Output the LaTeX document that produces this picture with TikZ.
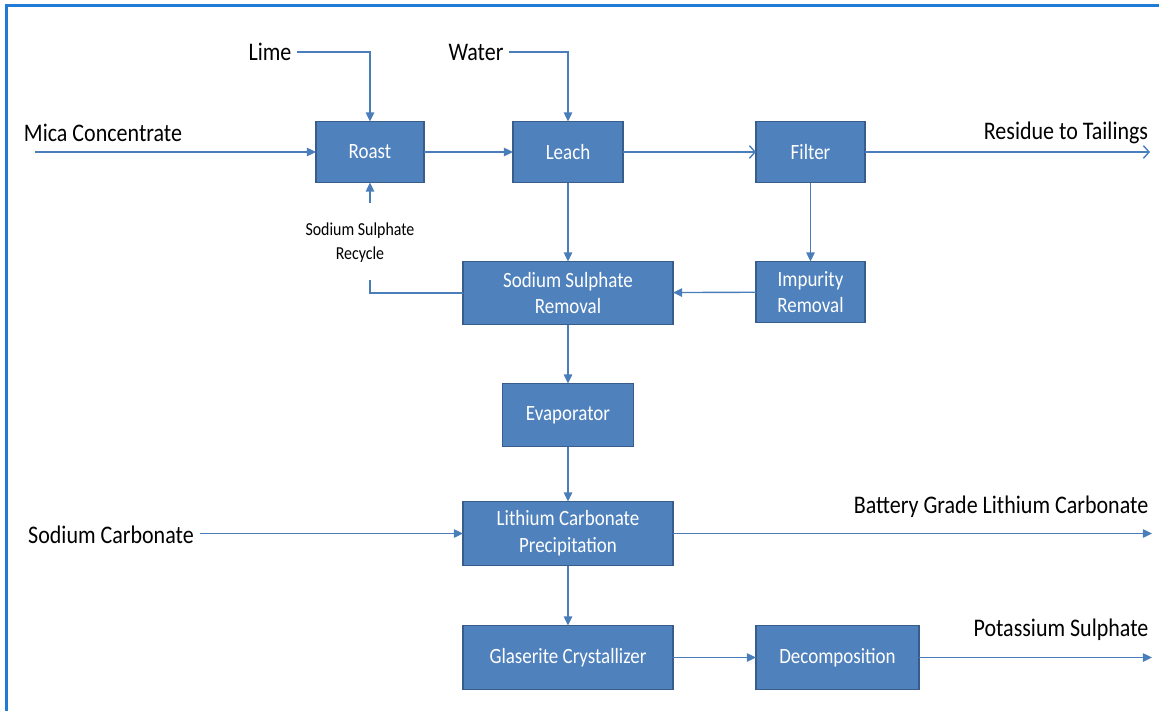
\documentclass[tikz,border=0pt]{standalone}
\usepackage{fontspec}
\setmainfont{Carlito}[FakeStretch=0.87]
\usepackage{tikz}
\usetikzlibrary{arrows.meta,positioning}

\definecolor{boxfill}{HTML}{4F81BD}
\definecolor{boxline}{HTML}{385D8A}
\definecolor{flowcol}{HTML}{4A7EBB}
\definecolor{framecol}{HTML}{1F7BD6}

\begin{document}
\begin{tikzpicture}[
        process/.style={draw=boxline, line width=1.4pt, fill=boxfill, text=white, align=center,
            font=\fontsize{15.5}{19}\selectfont, inner sep=0pt, outer sep=0pt},
        tag/.style={inner sep=4pt, align=center, font=\fontsize{18}{22}\selectfont},
        small/.style={inner sep=2pt, align=center, font=\fontsize{13}{17}\selectfont},
        flow/.style={draw=flowcol, line width=1pt, -{Triangle[length=6.5pt,width=6pt]}},
        openflow/.style={draw=flowcol, line width=1pt, -{Straight Barb[length=4pt,width=9pt]}},
        plain/.style={draw=flowcol, line width=1pt}
    ]

    % frame
    \useasboundingbox (0,0) rectangle (28.975,-17.775);
    \draw[framecol, line width=2.2pt] (0.16,-17.775) -- (0.16,-0.14) -- (28.975,-0.14);

    % Nodes
    \node[process, minimum width=2.7cm, minimum height=1.525cm] (roast) at (9.25,-3.8) {Roast};
    \node[process, minimum width=2.75cm, minimum height=1.525cm, right=2.225cm of roast] (leach) {Leach};
    \node[process, minimum width=2.725cm, minimum height=1.525cm, right=3.325cm of leach] (filter) {Filter};
    \node[process, minimum width=5.25cm, minimum height=1.575cm, below=1.975cm of leach] (ssr) {Sodium Sulphate\\Removal};
    \node[process, minimum width=2.725cm, minimum height=1.525cm, below=1.975cm of filter] (impurity) {Impurity\\Removal};
    \node[process, minimum width=3.275cm, minimum height=1.575cm, below=1.475cm of ssr] (evap) {Evaporator};
    \node[process, minimum width=5.25cm, minimum height=1.6cm, below=1.375cm of evap] (lcp) {Lithium Carbonate\\Precipitation};
    \node[process, minimum width=5.25cm, minimum height=1.6cm, below=1.5cm of lcp] (glaserite) {Glaserite Crystallizer};
    \node[process, minimum width=4.075cm, minimum height=1.6cm, right=2.075cm of glaserite] (decomp) {Decomposition};

    \node[tag] (lime) at (6.75,-1.3) {Lime};
    \node[tag] (water) at (11.9,-1.3) {Water};
    \node[tag] (mica) at (2.575,-3.325) {Mica Concentrate};
    \node[small] (recycle) at (9.0,-6.075) {Sodium Sulphate\\Recycle};
    \node[tag] (residue) at (26.65,-3.325) {Residue to Tailings};
    \node[tag] (sodacarb) at (2.775,-13.375) {Sodium Carbonate};
    \node[tag] (battery) at (25.025,-12.675) {Battery Grade Lithium Carbonate};
    \node[tag] (potassium) at (26.525,-15.75) {Potassium Sulphate};

    \coordinate (micain) at (0.875,-3.8);
    \coordinate (recycin) at (9.25,-5.075);
    \coordinate (recycout) at (9.25,-7.0);
    \coordinate (residueout) at (28.75,-3.8);
    \coordinate (rightedge) at (28.8,0);

    % Edges
    \draw[flow] (lime.east) -| (roast.north);
    \draw[flow] (water.east) -| (leach.north);
    \draw[flow] (micain) -- (roast.west);
    \draw[flow] (roast) -- (leach);
    \draw[openflow] (leach) -- (filter);
    \draw[openflow] (filter.east) -- (filter.east -| residueout);
    \draw[flow] (filter) -- (impurity);
    \draw[flow] (leach) -- (ssr);
    \draw[flow] (impurity) -- (ssr);
    \draw[plain] (ssr.west) -| (recycout);
    \draw[flow] (recycin) -- (roast.south);
    \draw[flow] (ssr) -- (evap);
    \draw[flow] (evap) -- (lcp);
    \draw[flow] (sodacarb.east |- lcp.west) -- (lcp.west);
    \draw[flow] (lcp.east) -- (lcp.east -| rightedge);
    \draw[flow] (lcp) -- (glaserite);
    \draw[flow] (glaserite) -- (decomp);
    \draw[flow] (decomp.east) -- (decomp.east -| rightedge);

\end{tikzpicture}
\end{document}
